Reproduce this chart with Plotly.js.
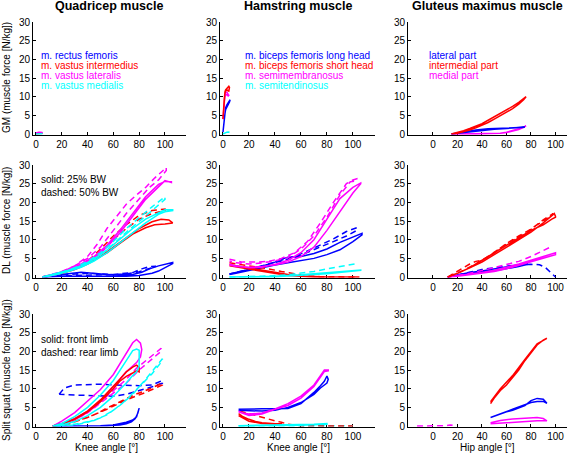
<!DOCTYPE html>
<html><head><meta charset="utf-8">
<script src="https://cdn.plot.ly/plotly-3.0.1.min.js"></script>
<style>html,body{margin:0;padding:0;background:#fff}#plot{width:567px;height:453px}</style>
</head><body><div id="plot"></div>
<script>
// ---------- DATA ----------
const colTitles = ['Quadricep muscle', 'Hamstring muscle', 'Gluteus maximus muscle'];
const rowTitles = ['GM (muscle force [N/kg])', 'DL (muscle force [N/kg])', 'Split squat (muscle force [N/kg])'];
const xTitles = ['Knee angle [°]', 'Knee angle [°]', 'Hip angle [°]'];
const quadNames = ['m. rectus femoris', 'm. vastus intermedius', 'm. vastus lateralis', 'm. vastus medialis'];
const hamNames = ['m. biceps femoris long head', 'm. biceps femoris short head', 'm. semimembranosus', 'm. semitendinosus'];
const gluNames = ['lateral part', 'intermedial part', 'medial part'];
const dlNote = ['solid: 25% BW', 'dashed: 50% BW'];
const ssNote = ['solid: front limb', 'dashed: rear limb'];
const xTickVals = [0, 20, 40, 60, 80, 100];
const yTickVals = [0, 5, 10, 15, 20, 25, 30];

// GM row
const gmQuadRFx = [0, 1, 2, 3, 4, 5];            const gmQuadRFy = [0.2, 0.3, 0.3, 0.35, 0.3, 0.3];
const gmQuadVIx = [0, 2, 4, 5];                  const gmQuadVIy = [0.1, 0.2, 0.2, 0.2];
const gmQuadVLx = [0, 1, 2, 3, 4, 5];            const gmQuadVLy = [0.3, 0.45, 0.5, 0.5, 0.45, 0.4];
const gmQuadVMx = [0, 1, 2, 3, 4, 5];            const gmQuadVMy = [0, 0.05, 0.1, 0.1, 0.1, 0.05];

const gmHamBFLx = [0, 0.5, 1, 1.5, 2, 3, 4, 5, 5.5, 5, 4, 3, 2, 1.5, 1, 0.5, 0];
const gmHamBFLy = [0.5, 2.5, 4.5, 6, 7, 7.8, 8.5, 9, 9.2, 8.6, 8, 7.2, 6.5, 5.5, 4, 2, 0.5];
const gmHamBFSx = [0, 0.5, 1, 1.5, 2, 3, 4, 4.5, 5, 5, 4.5, 4, 3, 2, 1.5, 1, 0.5, 0];
const gmHamBFSy = [4, 7, 10, 11.3, 11.8, 12.2, 12.6, 12.8, 12.5, 11.8, 11.5, 11.6, 11.8, 11.5, 11, 9.5, 7, 4];
const gmHamSMx = [0, 0.5, 1, 1.5, 2, 2.5, 3, 4, 4.5, 4, 3, 2, 1.5, 1, 0.5, 0];
const gmHamSMy = [4, 6.5, 9, 10.5, 11, 11.3, 11.2, 10.6, 10.4, 10.2, 10.5, 10.5, 10, 8.5, 6, 4];
const gmHamSTx = [0, 1, 2, 3, 4, 5];             const gmHamSTy = [0, 0.2, 0.4, 0.5, 0.55, 0.5];

const gmGluLatx = [15, 25, 35, 45, 55, 65, 75, 70, 60, 50, 40, 30, 20, 15];
const gmGluLaty = [0, 0.6, 1.1, 1.4, 1.5, 1.6, 1.8, 1.6, 1.5, 1.3, 1.0, 0.6, 0.2, 0];
const gmGluIntx = [15, 20, 25, 30, 35, 40, 45, 50, 55, 60, 65, 70, 74, 76, 74, 70, 65, 60, 55, 50, 45, 40, 35, 30, 25, 20, 15];
const gmGluInty = [0, 0.4, 0.9, 1.5, 2.1, 2.8, 3.7, 4.6, 5.5, 6.5, 7.4, 8.5, 9.5, 10, 9.2, 8, 6.8, 5.8, 4.8, 4, 3.1, 2.3, 1.7, 1.1, 0.6, 0.2, 0];
const gmGluMedx = [15, 25, 35, 45, 55, 60, 65, 70, 74, 76, 74, 70, 65, 60, 55, 45, 35, 25, 15];
const gmGluMedy = [0, 0, 0, 0.05, 0.2, 0.4, 0.7, 1.2, 1.8, 2.2, 1.9, 1.4, 0.9, 0.5, 0.2, 0, 0, 0, 0];

// DL row
const dlQuadRF25x = [5, 15, 25, 35, 45, 55, 65, 75, 82, 88, 95, 100, 106, 106, 100, 95, 90, 85, 80, 70, 60, 50, 40, 30, 20, 10, 5];
const dlQuadRF25y = [0.1, 0.4, 0.9, 1.3, 0.9, 0.7, 0.6, 0.7, 1.3, 2.2, 3.0, 3.5, 3.9, 3.6, 2.4, 1.6, 1.0, 0.6, 0.4, 0.2, 0.2, 0.3, 0.4, 0.3, 0.2, 0.1, 0];
const dlQuadRF50x = [5, 20, 40, 60, 75, 82, 88, 93, 90, 85, 80, 70, 50, 30, 10, 5];
const dlQuadRF50y = [0, 0.6, 1.0, 0.7, 1.2, 2.2, 2.8, 2.9, 2.5, 2.0, 1.4, 0.8, 0.6, 0.5, 0.2, 0];
const dlQuadVI25x = [5, 20, 30, 40, 50, 60, 70, 80, 90, 97, 103, 106, 106, 100, 92, 85, 75, 65, 55, 45, 35, 25, 15, 5];
const dlQuadVI25y = [0, 1, 2, 3.5, 5.5, 8, 10.5, 13, 14.8, 15.5, 15.3, 14.7, 14.5, 14.2, 14, 13.2, 11.5, 9, 6.5, 4.5, 2.8, 1.6, 0.8, 0];
const dlQuadVI50x = [5, 20, 30, 40, 50, 60, 70, 80, 90, 100, 100, 90, 80, 70, 60, 50, 40, 30, 20, 5];
const dlQuadVI50y = [0, 1, 2.5, 4.2, 7.5, 11, 14, 16.5, 17.8, 18.2, 17.8, 17, 15.5, 13, 10, 6.5, 4, 2.2, 1, 0];
const dlQuadVL25x = [5, 15, 25, 35, 45, 55, 65, 75, 85, 95, 100, 105, 105, 100, 95, 85, 75, 65, 55, 45, 35, 25, 15, 5];
const dlQuadVL25y = [0, 0.8, 2, 3.5, 5.5, 8.5, 12.5, 17, 21.5, 24.8, 25.6, 25.5, 25.3, 25.8, 24.2, 20.8, 16.3, 11.8, 8, 5, 3.2, 1.7, 0.6, 0];
const dlQuadVL50x = [5, 20, 30, 40, 48, 55, 62, 70, 78, 85, 92, 97, 101, 101, 95, 88, 80, 70, 60, 50, 40, 30, 20, 5];
const dlQuadVL50y = [0, 1.5, 3, 5.5, 9, 13, 16, 19.5, 22, 24, 26.5, 28, 29.3, 28.5, 26, 24, 21, 17, 12.5, 8, 5, 3, 1.3, 0];
const dlQuadVM25x = [5, 15, 25, 35, 45, 55, 65, 75, 85, 95, 100, 106, 106, 100, 95, 85, 75, 65, 55, 45, 35, 25, 15, 5];
const dlQuadVM25y = [0, 0.8, 1.8, 3, 4.8, 7.2, 10, 13, 15.5, 17.3, 18, 18, 17.8, 17.5, 16.8, 14.5, 11.8, 9, 6.5, 4.3, 2.6, 1.5, 0.6, 0];
const dlQuadVM50x = [5, 20, 30, 40, 50, 60, 70, 80, 90, 100, 100, 90, 80, 70, 60, 50, 40, 30, 20, 5];
const dlQuadVM50y = [0, 1.2, 2.5, 4.2, 6.5, 9.5, 13, 16, 18.8, 21.5, 20.8, 17.8, 15, 12, 8.8, 6, 3.8, 2.2, 1, 0];

const dlHamBFL25x = [5, 10, 20, 30, 40, 45, 50, 60, 70, 80, 90, 100, 107, 107, 100, 90, 80, 70, 60, 50, 40, 30, 20, 10, 5];
const dlHamBFL25y = [0.8, 1.2, 2, 2.9, 4, 4.8, 5.3, 5.5, 6.3, 7.5, 9.3, 10.7, 11.7, 11.3, 9.5, 7.3, 6, 5, 4.3, 3.8, 3.2, 2.4, 1.6, 1, 0.7];
const dlHamBFL50x = [5, 20, 40, 55, 65, 75, 85, 95, 103, 103, 95, 85, 75, 65, 55, 45, 30, 15, 5];
const dlHamBFL50y = [0.8, 2, 4, 5.5, 7, 8.7, 10.2, 12.2, 13.2, 12.5, 11, 9.5, 8, 6.5, 5.2, 4.3, 3, 1.8, 0.8];
const dlHamBFS25x = [5, 10, 20, 30, 40, 50, 60, 70, 80, 90, 100, 105, 90, 70, 50, 40, 30, 20, 10, 5];
const dlHamBFS25y = [3.3, 3, 2.6, 2, 1.3, 0.7, 0.3, 0.1, 0, 0, 0, 0, 0, 0, 0.4, 1, 1.6, 2.2, 2.7, 3];
const dlHamBFS50x = [5, 15, 25, 35, 45, 55, 65, 75, 85, 95, 103];
const dlHamBFS50y = [3.8, 3.3, 2.8, 2.2, 1.5, 0.8, 0.3, 0.1, 0, 0, 0];
const dlHamSM25x = [5, 10, 20, 30, 40, 50, 60, 70, 80, 90, 100, 106, 106, 100, 90, 80, 70, 60, 50, 40, 30, 20, 10, 5];
const dlHamSM25y = [3.5, 3, 2.5, 2.6, 3.4, 4.5, 6.5, 10, 15.5, 21, 24, 25.2, 25, 22.5, 17.5, 12.5, 8, 5.5, 4, 3.2, 2.8, 2.6, 2.8, 3.2];
const dlHamSM50x = [5, 15, 25, 35, 45, 55, 65, 75, 85, 95, 100, 103, 103, 98, 90, 80, 70, 60, 50, 40, 30, 20, 10, 5];
const dlHamSM50y = [4.8, 4, 4, 4.2, 5, 6.5, 9.5, 14.5, 20, 25, 26, 26.3, 25.8, 25.5, 22, 16, 11, 7.5, 5.2, 4.3, 3.8, 3.5, 3.8, 4.3];
const dlHamST25x = [5, 20, 40, 60, 80, 100, 106, 106, 80, 60, 40, 20, 5];
const dlHamST25y = [0, 0, 0.2, 0.6, 1.1, 1.7, 1.9, 1.8, 0.9, 0.4, 0.1, 0, 0];
const dlHamST50x = [5, 30, 50, 60, 70, 80, 90, 100, 103];
const dlHamST50y = [0, 0.2, 0.6, 1, 1.5, 2.2, 2.8, 3.4, 3.6];

const dlGluLat25x = [12, 20, 30, 40, 50, 60, 70, 77, 77, 70, 60, 50, 40, 30, 20, 12];
const dlGluLat25y = [0, 0.6, 1.2, 1.6, 2.2, 2.8, 3.3, 3.6, 3.4, 2.8, 2.2, 1.7, 1.3, 1, 0.5, 0];
const dlGluLat50x = [12, 25, 40, 50, 60, 70, 80, 87, 92, 97, 100];
const dlGluLat50y = [0, 1, 2, 2.5, 3, 3.3, 3.4, 3.3, 2.5, 1, 0];
const dlGluInt25x = [12, 20, 30, 40, 50, 60, 70, 80, 90, 95, 99, 100, 100, 97, 90, 80, 70, 60, 50, 40, 30, 20, 12];
const dlGluInt25y = [0, 1, 2.5, 4, 6, 8, 10, 12, 14.5, 16, 17, 16.3, 16, 15.5, 14, 12.5, 10.5, 8.5, 6.5, 4.5, 2.5, 1, 0];
const dlGluInt50x = [12, 20, 30, 35, 40, 50, 60, 70, 80, 90, 95, 98, 95, 85, 75, 65, 55, 45, 35, 25, 12];
const dlGluInt50y = [0, 1.5, 3.5, 4.2, 4.5, 6.5, 9, 11, 12.8, 15.3, 16.5, 17, 16, 14, 11.5, 9.8, 7.8, 5.5, 3.5, 1.8, 0];
const dlGluMed25x = [12, 20, 30, 40, 50, 60, 70, 80, 90, 100, 100, 90, 80, 70, 60, 50, 40, 30, 20, 12];
const dlGluMed25y = [0, 0.3, 0.7, 1.2, 1.8, 2.6, 3.5, 4.5, 5.5, 6.5, 6, 5, 4, 3, 2.2, 1.5, 1, 0.6, 0.2, 0];
const dlGluMed50x = [12, 30, 50, 60, 70, 80, 90, 97];
const dlGluMed50y = [0, 1, 2.5, 3.3, 4.2, 5.5, 7, 8.2];

// Split squat row
const ssQuadRFfx = [13, 30, 50, 60, 65, 70, 75, 78, 80, 79, 77, 74, 70, 65, 55, 40, 13];
const ssQuadRFfy = [0, 0, 0.1, 0.3, 0.6, 1, 1.6, 2.5, 4.8, 3.5, 2, 1.1, 0.6, 0.3, 0.1, 0, 0];
const ssQuadRFrx = [18, 22, 30, 40, 50, 60, 70, 80, 90, 98, 98, 90, 80, 70, 60, 50, 40, 30, 22, 18];
const ssQuadRFry = [8.5, 10.2, 11, 11.2, 11.2, 11, 10.8, 10.8, 11, 12.2, 11.5, 10.5, 9.5, 8.5, 8, 8.2, 8.2, 8.3, 8.3, 8.5];
const ssQuadVIfx = [13, 20, 30, 40, 50, 60, 65, 70, 75, 78, 80, 80, 78, 75, 70, 65, 60, 50, 40, 30, 20, 13];
const ssQuadVIfy = [0, 0.6, 2, 4, 7, 10.5, 12.5, 14.5, 15.8, 16.3, 15.7, 14.5, 14.8, 14.2, 13.3, 12, 10, 6.5, 3.8, 1.8, 0.5, 0];
const ssQuadVIrx = [13, 25, 35, 45, 55, 65, 75, 85, 92, 98, 98, 85, 70, 55, 40, 25, 13];
const ssQuadVIry = [0, 0.8, 1.8, 3, 4.8, 6.5, 8.2, 9.5, 10.5, 11.5, 11, 9, 7, 4.5, 2.3, 0.5, 0];
const ssQuadVLfx = [13, 20, 30, 40, 50, 60, 70, 75, 78, 81, 82, 81, 78, 75, 70, 60, 50, 40, 30, 20, 13];
const ssQuadVLfy = [0, 1.3, 3.6, 6.6, 9.8, 13.8, 19.5, 22.3, 23.2, 22.2, 20.5, 18.5, 17, 16, 14.5, 10.5, 6.8, 4, 2, 0.7, 0];
const ssQuadVLrx = [13, 25, 35, 45, 55, 62, 70, 78, 85, 92, 97, 97, 90, 80, 70, 60, 50, 40, 30, 20, 13];
const ssQuadVLry = [0, 1, 2.5, 5, 8, 10, 12.5, 15.5, 17.5, 19.5, 20.8, 20, 18, 15, 11.5, 8.8, 6, 3.5, 1.7, 0.5, 0];
const ssQuadVMfx = [13, 20, 30, 40, 50, 60, 70, 75, 78, 80, 80, 78, 75, 70, 60, 50, 40, 30, 20, 13];
const ssQuadVMfy = [0, 0.7, 2.5, 5, 8.3, 12.2, 17.5, 20.2, 20.6, 20.3, 16, 14.5, 13.5, 11.5, 8, 5, 2.8, 1.2, 0.3, 0];
const ssQuadVMrx = [13, 30, 45, 55, 65, 75, 85, 92, 98, 98, 90, 80, 70, 60, 50, 40, 30, 13];
const ssQuadVMry = [0, 0.5, 1.5, 3, 5.5, 8.5, 12.5, 15.5, 18, 17.5, 14, 10.5, 7, 4.2, 2.2, 1, 0.3, 0];

const ssHamBFLfx = [12, 20, 30, 40, 50, 60, 70, 75, 78, 80, 81, 80, 75, 70, 60, 50, 40, 30, 20, 12];
const ssHamBFLfy = [4.5, 4.6, 4.6, 4.6, 4.7, 6, 9, 10.8, 12, 13.4, 12.5, 11.5, 10.2, 8.5, 6.3, 5, 4.2, 4, 4, 4.2];
const ssHamBFSfx = [12, 15, 20, 25, 30, 35, 40, 45, 45, 40, 30, 20, 15, 12];
const ssHamBFSfy = [3.3, 2.6, 1.8, 1.2, 0.9, 0.7, 0.6, 0.6, 0.5, 0.5, 0.7, 1.3, 2.2, 2.8];
const ssHamBFSrx = [13, 20, 30, 40, 45, 50, 60, 70, 80, 90, 100];
const ssHamBFSry = [4, 3.3, 2.2, 1.4, 1, 0.5, 0.1, 0, 0, 0, 0];
const ssHamSMfx = [12, 15, 20, 30, 40, 50, 60, 70, 75, 78, 81, 81, 78, 75, 70, 60, 50, 40, 30, 20, 15, 12];
const ssHamSMfy = [4, 3.5, 3.2, 3.5, 4.6, 6, 8, 11, 13.5, 15, 15, 14.8, 14.6, 13, 10.6, 7.5, 5.5, 4.5, 3.2, 2.8, 3.3, 3.8];
const ssHamSTfx = [12, 30, 50, 60, 70, 80, 80, 60, 40, 12];
const ssHamSTfy = [0.1, 0.2, 0.3, 0.4, 0.5, 0.7, 0.5, 0.2, 0.1, 0];
const ssHamSTrx = [12, 40, 70, 100];
const ssHamSTry = [0.1, 0.1, 0.1, 0.1];

const ssGluLatfx = [47, 55, 60, 65, 70, 75, 80, 85, 90, 93, 93, 90, 85, 80, 75, 70, 65, 60, 55, 50, 47];
const ssGluLatfy = [2.3, 3.3, 3.8, 4.2, 4.8, 5.5, 6.8, 7.4, 7.2, 6.2, 6.1, 6.6, 6.6, 6.3, 5.8, 5.1, 4.5, 3.9, 3.4, 2.8, 2.3];
const ssGluIntfx = [47, 50, 55, 60, 65, 70, 75, 80, 85, 90, 93, 93, 85, 75, 65, 55, 50, 47];
const ssGluIntfy = [6, 7.5, 9.5, 11, 13, 15, 17.5, 19.5, 21.7, 23, 23.5, 23.3, 22, 17.8, 13.5, 10, 8, 6.5];
const ssGluMedfx = [47, 55, 65, 75, 85, 90, 93, 93, 85, 75, 65, 55, 47];
const ssGluMedfy = [0.9, 1.5, 1.9, 2.1, 2.3, 2, 1.6, 1.4, 1.4, 1.2, 1, 0.7, 0.6];
const ssGluMedrx = [-13, -5, 0, 5, 10, 14, 16];
const ssGluMedry = [0, 0, 0.05, 0.05, 0.1, 0.3, 0.2];

// ---------- BUILD ----------
const BLUE = '#0000ff', RED = '#ff0000', MAG = '#ff00ff', CYAN = '#00ffff';
const W = 567, H = 453;
const FONT = 'Liberation Sans, Arial, Helvetica, sans-serif';
const colPx = [[33, 186], [220, 375], [408, 567]];
const colRange = [[-2.3, 116.3], [-2.3, 117], [-20.4, 109.4]];
const rowPx = [[22, 134.8], [165, 277.8], [314, 426.8]];

const traces = [];
function add(panel, x, y, color, dashed) {
  const s = panel === 1 ? '' : String(panel);
  traces.push({x: x, y: y, xaxis: 'x' + s, yaxis: 'y' + s, mode: 'lines', hoverinfo: 'skip',
    line: {color: color, width: 1.5, dash: dashed ? '6px,4px' : 'solid'}, showlegend: false});
}
add(1, gmQuadRFx, gmQuadRFy, BLUE); add(1, gmQuadVIx, gmQuadVIy, RED);
add(1, gmQuadVLx, gmQuadVLy, MAG);  add(1, gmQuadVMx, gmQuadVMy, CYAN);
add(2, gmHamSTx, gmHamSTy, CYAN); add(2, gmHamBFLx, gmHamBFLy, BLUE);
add(2, gmHamSMx, gmHamSMy, MAG);  add(2, gmHamBFSx, gmHamBFSy, RED);
add(3, gmGluMedx, gmGluMedy, MAG); add(3, gmGluLatx, gmGluLaty, BLUE); add(3, gmGluIntx, gmGluInty, RED);

add(4, dlQuadRF25x, dlQuadRF25y, BLUE); add(4, dlQuadRF50x, dlQuadRF50y, BLUE, true);
add(4, dlQuadVI25x, dlQuadVI25y, RED);  add(4, dlQuadVI50x, dlQuadVI50y, RED, true);
add(4, dlQuadVL25x, dlQuadVL25y, MAG);  add(4, dlQuadVL50x, dlQuadVL50y, MAG, true);
add(4, dlQuadVM25x, dlQuadVM25y, CYAN); add(4, dlQuadVM50x, dlQuadVM50y, CYAN, true);
add(5, dlHamBFL25x, dlHamBFL25y, BLUE); add(5, dlHamBFL50x, dlHamBFL50y, BLUE, true);
add(5, dlHamBFS25x, dlHamBFS25y, RED);  add(5, dlHamBFS50x, dlHamBFS50y, RED, true);
add(5, dlHamSM25x, dlHamSM25y, MAG);    add(5, dlHamSM50x, dlHamSM50y, MAG, true);
add(5, dlHamST25x, dlHamST25y, CYAN);   add(5, dlHamST50x, dlHamST50y, CYAN, true);
add(6, dlGluLat25x, dlGluLat25y, BLUE); add(6, dlGluLat50x, dlGluLat50y, BLUE, true);
add(6, dlGluMed25x, dlGluMed25y, MAG);  add(6, dlGluMed50x, dlGluMed50y, MAG, true);
add(6, dlGluInt25x, dlGluInt25y, RED);  add(6, dlGluInt50x, dlGluInt50y, RED, true);

add(7, ssQuadRFfx, ssQuadRFfy, BLUE); add(7, ssQuadRFrx, ssQuadRFry, BLUE, true);
add(7, ssQuadVIrx, ssQuadVIry, RED, true); add(7, ssQuadVLrx, ssQuadVLry, MAG, true);
add(7, ssQuadVMrx, ssQuadVMry, CYAN, true);
add(7, ssQuadVLfx, ssQuadVLfy, MAG); add(7, ssQuadVIfx, ssQuadVIfy, RED); add(7, ssQuadVMfx, ssQuadVMfy, CYAN);
add(8, ssHamSTrx, ssHamSTry, CYAN, true); add(8, ssHamBFSrx, ssHamBFSry, RED, true);
add(8, ssHamBFSfx, ssHamBFSfy, RED); add(8, ssHamSTfx, ssHamSTfy, CYAN);
add(8, ssHamBFLfx, ssHamBFLfy, BLUE); add(8, ssHamSMfx, ssHamSMfy, MAG);
add(9, ssGluMedrx, ssGluMedry, MAG, true);
add(9, ssGluMedfx, ssGluMedfy, MAG); add(9, ssGluLatfx, ssGluLatfy, BLUE); add(9, ssGluIntfx, ssGluIntfy, RED);

const layout = {
  width: W, height: H, margin: {l: 0, r: 0, t: 0, b: 0},
  paper_bgcolor: '#fff', plot_bgcolor: 'rgba(0,0,0,0)', showlegend: false,
  font: {family: FONT, size: 10, color: '#000'}, annotations: []
};
for (let r = 0; r < 3; r++) {
  for (let c = 0; c < 3; c++) {
    const i = r * 3 + c + 1;
    const s = i === 1 ? '' : String(i);
    const common = {showgrid: false, zeroline: false, showline: true, linecolor: '#000', linewidth: 1,
      ticks: 'inside', ticklen: 3, tickcolor: '#000', tickwidth: 1, layer: 'below traces',
      tickfont: {family: FONT, size: 10, color: '#000'}, fixedrange: true};
    layout['xaxis' + s] = Object.assign({}, common, {
      domain: [colPx[c][0] / W, colPx[c][1] / W], range: colRange[c], anchor: 'y' + s,
      tickvals: xTickVals, ticktext: xTickVals.map(String)});
    layout['yaxis' + s] = Object.assign({}, common, {
      domain: [1 - rowPx[r][1] / H, 1 - rowPx[r][0] / H], range: [-0.2, 30], anchor: 'x' + s,
      tickvals: yTickVals, ticktext: yTickVals.map(String)});
  }
}
function ann(text, xpx, ypx, opts) {
  layout.annotations.push(Object.assign({text: text, xref: 'paper', yref: 'paper', x: xpx / W, y: 1 - ypx / H,
    showarrow: false, xanchor: 'left', yanchor: 'middle', font: {family: FONT, size: 10, color: '#000'}}, opts || {}));
}
const colCenters = [109, 297.5, 487];
colTitles.forEach((t, c) => ann('<b>' + t + '</b>', colCenters[c], 6, {xanchor: 'center', font: {family: FONT, size: 12.5, color: '#000'}}));
const rowCenters = [78, 221, 370];
rowTitles.forEach((t, r) => ann(t, 6, rowCenters[r], {xanchor: 'center', textangle: -90}));
const xtCenters = [106.5, 298, 487.5];
xTitles.forEach((t, c) => ann(t, xtCenters[c], 447, {xanchor: 'center', font: {family: FONT, size: 10, color: '#000'}}));
const lc = [BLUE, RED, MAG, CYAN];
const legY = [55.5, 65.5, 75.5, 85.5];
quadNames.forEach((t, k) => ann(t, 38.5, legY[k], {font: {family: FONT, size: 10, color: lc[k]}}));
hamNames.forEach((t, k) => ann(t, 242.5, legY[k], {font: {family: FONT, size: 10, color: lc[k]}}));
gluNames.forEach((t, k) => ann(t, 427, legY[k], {font: {family: FONT, size: 10, color: lc[k]}}));
dlNote.forEach((t, k) => ann(t, 38.5, [179.5, 192.5][k]));
ssNote.forEach((t, k) => ann(t, 38.5, [339.5, 352][k]));

Plotly.newPlot('plot', traces, layout, {staticPlot: true, displayModeBar: false});
</script>
</body></html>
